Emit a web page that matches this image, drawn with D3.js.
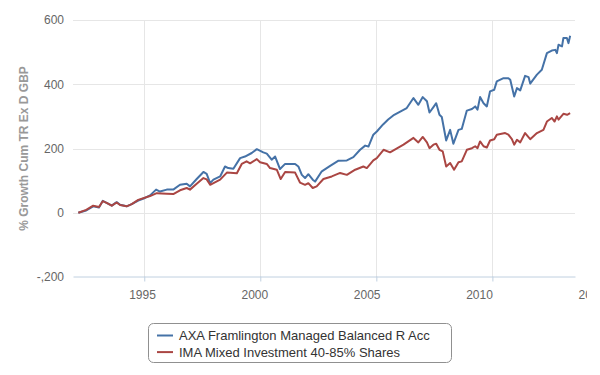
<!DOCTYPE html>
<html>
<head>
<meta charset="utf-8">
<script src="https://cdn.jsdelivr.net/npm/d3@7"></script>
<style>
  body { margin: 0; background: #fff; }
  svg { font-family: "Liberation Sans", Arial, sans-serif; }
</style>
</head>
<body>
<div id="chart"></div>
<script>
// ---- DATA ----
const seriesNames = ["AXA Framlington Managed Balanced R Acc", "IMA Mixed Investment 40-85% Shares"];

const axaYears = [1992.16, 1992.50, 1992.80, 1993.05, 1993.21, 1993.40, 1993.60, 1993.81, 1993.96, 1994.24, 1994.46, 1994.74, 1995.03,
  1995.25, 1995.51, 1995.68, 1995.97, 1996.25, 1996.54, 1996.83, 1996.97, 1997.26, 1997.55,
  1997.69, 1997.84, 1997.98, 1998.27, 1998.48, 1998.62, 1998.84, 1999.13, 1999.34, 1999.63,
  1999.85, 2000.13, 2000.28, 2000.49, 2000.64, 2000.85, 2001.07, 2001.50, 2001.64, 2001.79,
  2001.93, 2002.07, 2002.26, 2002.36, 2002.65, 2003.01, 2003.37, 2003.73, 2004.01, 2004.30,
  2004.52, 2004.66, 2004.87, 2005.02, 2005.29, 2005.51, 2005.77, 2006.03, 2006.31, 2006.60,
  2006.81, 2007.00, 2007.18, 2007.29, 2007.46, 2007.58, 2007.72, 2007.82, 2008.01, 2008.18,
  2008.32, 2008.54, 2008.68, 2008.90, 2009.12, 2009.26, 2009.36, 2009.47, 2009.62, 2009.76,
  2009.90, 2010.08, 2010.19, 2010.48, 2010.69, 2010.77, 2010.94, 2011.06, 2011.20, 2011.41,
  2011.56, 2011.63, 2011.92, 2012.13, 2012.35, 2012.56, 2012.71, 2012.78, 2012.85, 2013.00,
  2013.06, 2013.21, 2013.28, 2013.35];
const axaValues = [0, 7, 20, 16, 37, 30, 22, 33, 25, 20, 27, 38, 46,
  54, 72, 66, 72, 72, 87, 90, 82, 105, 127,
  121, 92, 103, 113, 144, 139, 137, 170, 175, 186,
  198, 188, 184, 165, 175, 136, 152, 152, 144, 118,
  108, 120, 103, 97, 129, 146, 162, 163, 173, 196,
  209, 206, 243, 253, 275, 290, 305, 315, 326, 357,
  336, 360, 347, 312, 329, 341, 305, 298, 225, 258,
  215, 258, 261, 318, 323, 331, 321, 360, 341, 331,
  378, 383, 409, 419, 419, 414, 362, 388, 381, 426,
  422, 402, 430, 445, 497, 505, 507, 497, 523, 518,
  544, 544, 528, 551];

const imaYears = [1992.16, 1992.50, 1992.80, 1993.05, 1993.21, 1993.40, 1993.60, 1993.81, 1993.96, 1994.24, 1994.46, 1994.74, 1995.25,
  1995.54, 1995.97, 1996.25, 1996.54, 1996.83, 1996.97, 1997.26, 1997.55, 1997.69, 1997.84,
  1998.27, 1998.56, 1998.99, 1999.20, 1999.41, 1999.56, 1999.85, 1999.99, 2000.28, 2000.42,
  2000.71, 2000.88, 2001.07, 2001.50, 2001.71, 2001.93, 2002.07, 2002.26, 2002.43, 2002.72,
  2003.08, 2003.44, 2003.73, 2004.09, 2004.44, 2004.59, 2004.87, 2005.02, 2005.31, 2005.59,
  2006.17, 2006.60, 2006.81, 2007.00, 2007.18, 2007.29, 2007.46, 2007.58, 2007.72, 2007.86,
  2008.01, 2008.18, 2008.35, 2008.54, 2008.68, 2008.90, 2009.12, 2009.26, 2009.36, 2009.47,
  2009.62, 2009.76, 2009.90, 2010.08, 2010.19, 2010.55, 2010.69, 2010.84, 2010.94, 2011.06,
  2011.20, 2011.41, 2011.63, 2011.92, 2012.20, 2012.35, 2012.56, 2012.68, 2012.78, 2012.85,
  2013.06, 2013.22, 2013.35];
const imaValues = [0, 9, 22, 18, 36, 30, 22, 32, 24, 20, 27, 40, 52,
  61, 59, 58, 70, 77, 72, 90, 108, 104, 87,
  103, 125, 123, 152, 160, 154, 167, 157, 152, 139,
  134, 105, 127, 125, 94, 87, 92, 77, 82, 105,
  113, 124, 118, 134, 144, 139, 163, 170, 196, 188,
  212, 233, 219, 236, 219, 201, 212, 215, 196, 191,
  144, 155, 134, 157, 160, 196, 201, 207, 201, 222,
  207, 203, 225, 229, 243, 248, 243, 229, 212, 227,
  219, 248, 229, 248, 258, 284, 295, 284, 300, 290,
  308, 305, 310];

const yTicks = [-200, 0, 200, 400, 600];
const xTicks = [1995, 2000, 2005, 2010];
const xLabels = [1995, 2000, 2005, 2010, 2015];
const yTitle = "% Growth Cum TR Ex D GBP";

const colors = ["#4572A7", "#AA4643"];

// ---- SVG ----
const width = 600, height = 375;
const plot = { left: 73, right: 575, top: 20, bottom: 277 };

const svg = d3.select("#chart").append("svg")
  .attr("width", width)
  .attr("height", height);

// ---- SCALES ----
const x = d3.scaleLinear()
  .domain([1991.93, 2013.56])
  .range([plot.left, plot.right]);

// the labels sit on a slightly narrower scale than the ticks in the original
const xLab = d3.scaleLinear()
  .domain([1991.93, 2013.56])
  .range([plot.left, 559]);

const y = d3.scaleLinear()
  .domain([-200, 600])
  .range([plot.bottom, plot.top]);

// ---- GRID ----
svg.append("g").selectAll("line")
  .data(yTicks.filter(d => d > -200))
  .enter().append("line")
  .attr("x1", plot.left).attr("x2", plot.right)
  .attr("y1", d => Math.round(y(d)) + 0.5).attr("y2", d => Math.round(y(d)) + 0.5)
  .attr("stroke", "#e6e6e6");

svg.append("g").selectAll("line")
  .data(xTicks)
  .enter().append("line")
  .attr("x1", d => Math.round(x(d)) + 0.5).attr("x2", d => Math.round(x(d)) + 0.5)
  .attr("y1", plot.top).attr("y2", plot.bottom)
  .attr("stroke", "#e6e6e6");

// ---- AXES ----
const xAxis = svg.append("g")
  .attr("transform", `translate(0,${plot.bottom - 0.5})`)
  .call(d3.axisBottom(x).tickValues(xTicks).tickSize(5).tickSizeOuter(0).tickFormat(""));
xAxis.select(".domain").attr("stroke", "#c0d0e0");
xAxis.selectAll(".tick line").attr("stroke", "#c0d0e0");

// the last label is cut at the right edge in the original
svg.append("clipPath").attr("id", "labclip")
  .append("rect").attr("x", 0).attr("y", 0).attr("width", 587).attr("height", height);

const xLabAxis = svg.append("g")
  .attr("clip-path", "url(#labclip)")
  .attr("transform", `translate(0,${plot.bottom})`)
  .call(d3.axisBottom(xLab).tickValues(xLabels).tickSize(0).tickPadding(13).tickFormat(d3.format("d")));
xLabAxis.select(".domain").remove();
xLabAxis.selectAll("text")
  .attr("fill", "#666")
  .style("font-size", "12px")
  .style("font-family", "'Liberation Sans', Arial, sans-serif");

const yAxis = svg.append("g")
  .attr("transform", `translate(${plot.left},0)`)
  .call(d3.axisLeft(y).tickValues(yTicks).tickSize(0).tickPadding(9)
    .tickFormat(d => d < 0 ? "-," + Math.abs(d) : d));
yAxis.select(".domain").remove();
yAxis.selectAll("text")
  .attr("fill", "#666")
  .style("font-size", "12px")
  .style("font-family", "'Liberation Sans', Arial, sans-serif");

svg.append("text")
  .attr("transform", `translate(28,${(plot.top + plot.bottom) / 2}) rotate(-90)`)
  .attr("text-anchor", "middle")
  .attr("fill", "#999")
  .style("font-size", "12px")
  .style("font-weight", "bold")
  .text(yTitle);

// ---- LINES ----
const line = d3.line()
  .x(d => x(d[0]))
  .y(d => y(d[1]));

const series = [
  d3.zip(axaYears, axaValues),
  d3.zip(imaYears, imaValues)
];

svg.append("g").selectAll("path")
  .data(series)
  .enter().append("path")
  .attr("d", line)
  .attr("fill", "none")
  .attr("stroke", (d, i) => colors[i])
  .attr("stroke-width", 2)
  .attr("stroke-linejoin", "round");

// ---- LEGEND ----
const legend = svg.append("g");
legend.append("rect")
  .attr("x", 148.5).attr("y", 323.5)
  .attr("width", 303).attr("height", 39)
  .attr("rx", 5)
  .attr("fill", "#fff")
  .attr("stroke", "#909090");

const items = legend.selectAll("g.item")
  .data(seriesNames)
  .enter().append("g")
  .attr("class", "item")
  .attr("transform", (d, i) => `translate(0,${335.5 + i * 16.6})`);

items.append("line")
  .attr("x1", 157).attr("x2", 173)
  .attr("stroke", (d, i) => colors[i])
  .attr("stroke-width", 2);

items.append("text")
  .attr("x", 179)
  .attr("dy", "0.35em")
  .attr("fill", "#333")
  .style("font-size", "13px")
  .text(d => d);
</script>
</body>
</html>
